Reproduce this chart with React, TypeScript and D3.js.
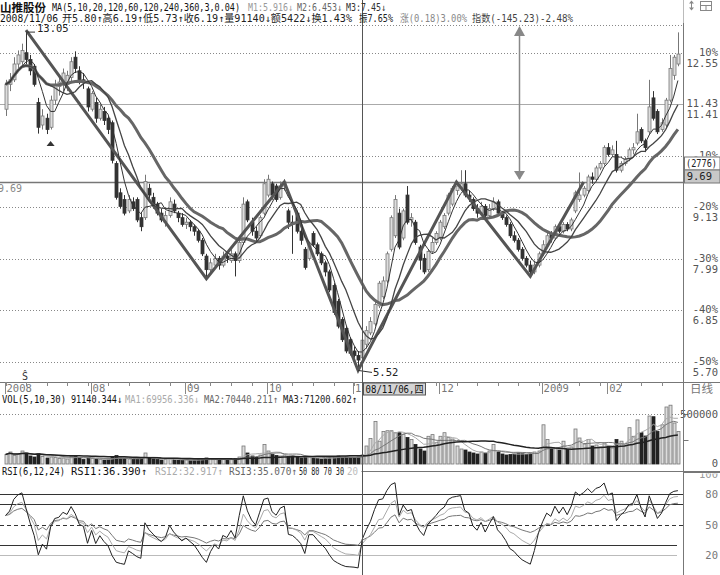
import React from 'react';
import * as d3 from 'd3';

const opens = [11.30,11.85,11.95,12.30,12.35,12.55,12.40,12.25,11.45,10.95,11.10,10.90,11.50,11.80,11.85,11.85,12.00,12.45,12.15,11.95,11.75,11.30,11.45,11.10,11.25,11.10,11.00,10.10,9.45,9.30,9.05,9.25,9.30,8.90,8.90,9.55,9.35,9.20,9.00,8.80,8.95,9.20,9.00,8.90,8.75,8.80,8.70,8.60,8.40,8.05,7.75,7.85,8.00,7.85,8.05,7.95,8.10,7.95,8.35,9.25,8.80,8.60,8.50,9.00,9.40,9.65,9.60,9.35,9.60,9.05,8.80,9.00,8.60,8.20,8.00,8.55,8.30,8.10,7.90,7.70,7.40,7.05,6.65,6.45,6.20,5.95,5.85,5.80,6.10,6.35,6.55,6.95,7.15,7.50,8.20,8.50,9.00,8.45,9.40,8.85,8.80,8.25,8.00,7.75,8.15,8.35,8.45,8.70,9.00,9.20,9.50,9.55,9.65,9.40,9.30,9.10,9.00,9.15,8.95,9.10,9.25,9.00,8.90,8.75,8.50,8.40,8.20,8.00,7.85,7.70,7.85,8.10,8.30,8.55,8.45,8.70,8.60,8.75,8.65,9.05,9.30,9.40,9.50,9.80,9.75,10.00,10.10,10.45,10.30,10.30,9.95,10.10,10.20,10.40,10.55,10.85,10.60,10.80,11.55,11.25,10.85,10.95,11.50,12.05,12.30];
const highs = [11.95,12.10,12.45,12.60,12.75,13.05,12.50,12.30,11.55,11.30,11.20,11.60,11.95,12.05,12.20,12.15,12.45,12.58,12.25,12.10,11.80,11.70,11.55,11.40,11.35,11.15,11.05,10.15,9.55,9.40,9.40,9.35,9.35,9.00,9.85,9.65,9.45,9.25,9.10,9.05,9.35,9.30,9.05,9.00,8.90,8.85,8.75,8.65,8.45,8.10,8.00,8.10,8.05,8.15,8.10,8.20,8.15,8.40,9.35,9.30,8.90,8.70,8.95,9.75,9.85,9.70,9.65,9.70,9.75,9.10,8.95,9.05,8.70,8.25,8.35,8.60,8.35,8.15,7.95,7.75,7.45,7.10,6.70,6.50,6.25,6.05,5.95,6.19,6.50,6.70,7.05,7.50,7.60,8.15,8.95,9.40,9.10,9.10,9.60,9.00,8.85,8.30,8.10,8.20,8.45,8.60,8.85,9.00,9.45,9.60,9.69,9.95,9.95,9.50,9.35,9.20,9.25,9.20,9.20,9.35,9.30,9.05,8.95,8.80,8.60,8.45,8.25,8.05,7.95,7.95,8.15,8.40,8.60,8.60,8.75,8.75,8.80,8.80,8.90,9.50,9.90,9.60,9.85,9.90,10.05,10.15,10.50,10.55,10.50,10.60,10.15,10.25,10.45,10.55,11.20,10.90,10.65,11.95,11.70,11.30,11.10,11.55,12.50,12.50,13.00];
const lows = [11.15,11.70,11.90,12.20,12.25,12.30,12.05,11.80,10.76,10.85,10.75,10.85,11.40,11.60,11.70,11.70,11.90,12.10,11.85,11.75,11.25,11.25,11.00,11.05,10.95,10.75,10.10,9.30,9.10,8.95,9.00,9.05,8.80,8.60,8.85,9.30,9.10,8.95,8.80,8.70,8.90,9.00,8.80,8.70,8.65,8.60,8.50,8.35,8.05,7.55,7.65,7.80,7.75,7.80,7.90,7.90,7.60,7.90,8.30,8.80,8.50,8.35,8.45,8.95,9.35,9.30,9.25,9.30,9.50,8.65,8.10,8.55,8.30,7.75,7.95,8.25,8.05,7.85,7.60,7.25,6.75,6.45,6.15,5.90,5.85,5.80,5.52,5.73,6.00,6.30,6.50,6.90,7.10,7.45,8.15,8.45,8.20,8.40,8.75,8.70,8.30,7.75,7.65,7.70,8.10,8.30,8.40,8.65,8.95,9.15,9.40,9.50,9.35,9.25,9.05,8.90,8.95,8.90,8.90,9.05,8.95,8.85,8.70,8.45,8.35,8.15,7.95,7.80,7.60,7.65,7.80,8.05,8.25,8.35,8.40,8.55,8.55,8.60,8.60,9.00,9.25,9.35,9.45,9.65,9.70,9.95,10.05,10.25,10.25,9.90,9.90,10.05,10.15,10.30,10.50,10.55,10.35,10.75,11.05,10.75,10.80,10.90,11.45,11.95,12.25];
const closes = [11.85,11.95,12.30,12.50,12.60,12.40,12.15,11.85,10.90,11.15,10.85,11.50,11.85,11.90,12.10,12.05,12.35,12.20,11.95,11.90,11.35,11.65,11.10,11.30,11.05,10.85,10.17,9.35,9.15,9.00,9.30,9.10,8.85,8.70,9.70,9.40,9.20,9.00,8.85,8.95,9.25,9.05,8.90,8.75,8.80,8.70,8.60,8.40,8.10,7.75,7.90,8.00,7.85,8.05,8.00,8.10,7.95,8.35,9.20,8.85,8.60,8.45,8.90,9.65,9.75,9.40,9.30,9.60,9.69,8.80,8.75,8.60,8.40,7.80,8.30,8.30,8.10,7.90,7.70,7.30,6.80,6.50,6.20,5.95,5.90,5.85,5.75,6.19,6.40,6.60,6.98,7.45,7.50,8.10,8.90,9.30,8.25,9.05,8.80,8.90,8.35,7.96,7.70,8.15,8.35,8.55,8.80,8.95,9.40,9.55,9.60,9.65,9.40,9.35,9.10,9.00,9.15,8.95,9.10,9.25,9.00,8.90,8.75,8.50,8.40,8.20,8.00,7.85,7.70,7.85,8.10,8.30,8.50,8.45,8.70,8.60,8.75,8.65,8.85,9.45,9.40,9.55,9.80,9.75,10.00,10.10,10.45,10.30,10.40,9.95,10.10,10.20,10.40,10.45,10.80,10.60,10.45,11.35,11.10,10.80,11.00,11.50,12.20,12.45,12.52];
const volumes = [95000,120000,85000,100000,130000,110000,80000,70000,105000,75000,60000,70000,65000,55000,60000,50000,75000,80000,60000,45000,65000,55000,50000,45000,40000,45000,70000,85000,60000,55000,50000,45000,55000,60000,110000,65000,50000,45000,40000,45000,55000,45000,40000,35000,40000,35000,40000,45000,50000,60000,55000,45000,40000,45000,40000,45000,55000,70000,180000,110000,80000,65000,90000,196000,130000,95000,85000,80000,90000,75000,85000,70000,60000,65000,70000,60000,55000,50000,55000,65000,75000,80000,70000,75000,65000,60000,70000,91140,180000,255000,425000,228000,326000,333000,333000,313000,313000,294000,265000,245000,196000,150000,130000,277000,294000,215000,277000,313000,265000,250000,180000,150000,140000,120000,110000,100000,120000,110000,130000,196000,120000,100000,90000,95000,100000,110000,105000,95000,110000,120000,130000,392000,245000,150000,160000,140000,228000,150000,170000,350000,260000,200000,245000,180000,190000,170000,210000,180000,160000,245000,228000,190000,363000,277000,441000,313000,280000,480000,473000,326000,392000,570000,588000,410000,326000];

const monthIdx = [0, 21, 44, 64, 85, 106, 131, 147];
const monthLabels = ['2008', '08', '09', '10', '11', '12', '2009', '02'];
const gridPct = ['10%', '-10%', '-20%', '-30%', '-40%', '-50%'];
const gridPrice = [12.55, 10.27, 9.13, 7.99, 6.85, 5.70];
const basePrice = 11.41;
const zigIdx = [5, 49, 68, 86, 110, 128, 141];
const zigVal = [13.05, 7.55, 9.69, 5.52, 9.69, 7.60, 9.69];
const rsiLevels = [80, 70, 50, 30, 20];
const rsiLabels = [80, 50, 20];
const crossIdx = 87;
const crossPrice = 9.69;

function movingAvg(arr: number[], n: number) {
  return arr.map((_, i) => d3.mean(arr.slice(Math.max(0, i - n + 1), i + 1)) as number);
}
function rsiCalc(c: number[], n: number) {
  let up = 0.1, all = 0.17;
  return c.map((v, i) => {
    if (i > 0) {
      const d = v - c[i - 1];
      up = (Math.max(d, 0) + (n - 1) * up) / n;
      all = (Math.abs(d) + (n - 1) * all) / n;
    }
    return all === 0 ? 50 : (up / all) * 100;
  });
}

const MONO = "'DejaVu Sans Mono', 'Noto Sans CJK SC', monospace";
const CJK = "'Noto Sans CJK SC', 'DejaVu Sans', sans-serif";

type TProps = { x: number; y: number; w: number; fill?: string; size?: number; family?: string; bold?: boolean; children: React.ReactNode };
function T({ x, y, w, fill = '#111', size = 10, family = MONO, bold = false, children }: TProps) {
  return (
    <text x={x} y={y} fontSize={size} fontFamily={family} fill={fill} fontWeight={bold ? 'bold' : 'normal'}
      textLength={w} lengthAdjust="spacingAndGlyphs">{children}</text>
  );
}

export default function App() {
  const N = closes.length;
  const x = d3.scaleLinear().domain([0, N - 1]).range([5.5, 677.9]);
  const y = d3.scaleLinear().domain([5.70, 12.55]).range([362.3, 52.7]);
  const yv = d3.scaleLinear().domain([0, 500000]).range([464, 414]);
  const yr = d3.scaleLinear().domain([0, 100]).range([576, 473.2]);
  const AX = 683.5;

  const ma5 = movingAvg(closes, 5);
  const ma10 = movingAvg(closes, 10);
  const ma20 = movingAvg(closes, 20);
  const vma5 = movingAvg(volumes, 5);
  const vma10 = movingAvg(volumes, 10);
  const vma30 = movingAvg(volumes, 30);
  const r1 = rsiCalc(closes, 6);
  const r2 = rsiCalc(closes, 12);
  const r3 = rsiCalc(closes, 24);

  const pl = d3.line<number>().x((_, i) => x(i)).y((v) => y(v));
  const vl = d3.line<number>().x((_, i) => x(i)).y((v) => yv(v));
  const rl = d3.line<number>().x((_, i) => x(i)).y((v) => yr(v));
  const zig = d3.line<number>().x((d) => x(zigIdx[d])).y((d) => y(zigVal[d]))(d3.range(zigIdx.length)) as string;

  const minorTicks = d3.range(0, N, 5);
  const cx = Math.round(x(crossIdx)) + 0.5;
  const hy = Math.round(y(crossPrice)) + 0.5;
  const lowI = 86;

  return (
    <svg width={720} height={575} style={{ position: 'absolute', left: 0, top: 0, background: '#fff' }}>
      <defs>
        <clipPath id="clip100"><rect x={AX + 1} y={473.5} width={40} height={10} /></clipPath>
        <clipPath id="clipLeft"><rect x={0} y={170} width={40} height={30} /></clipPath>
        <clipPath id="clipM10"><rect x={AX + 1} y={140} width={40} height={16.5} /></clipPath>
      </defs>
      <rect x={0} y={0} width={720} height={575} fill="#fff" />
      {/* price gridlines */}
      <line x1={0} x2={AX} y1={25.5} y2={25.5} stroke="#888" strokeDasharray="1,2" />
      {gridPrice.map((p, k) => (
        <line key={'g' + k} x1={0} x2={AX} y1={Math.round(y(p)) + 0.5} y2={Math.round(y(p)) + 0.5} stroke="#888" strokeDasharray="1,2" />
      ))}
      <line x1={0} x2={AX} y1={Math.round(y(basePrice)) + 0.5} y2={Math.round(y(basePrice)) + 0.5} stroke="#aaa" strokeWidth={1} />
      {/* crosshair horizontal */}
      <line x1={0} x2={AX} y1={hy} y2={hy} stroke="#777" strokeWidth={1.6} />
      <g clipPath="url(#clipLeft)">
        <text x={-2} y={hy + 9} fontSize={10} fontFamily={MONO} fill="#888">9.69</text>
      </g>

      {/* candles */}
      {closes.map((c, i) => {
        const up = c >= opens[i];
        const xi = Math.round(x(i)) + 0.5;
        const top = y(Math.max(c, opens[i]));
        const bot = y(Math.min(c, opens[i]));
        return (
          <g key={'c' + i}>
            <line x1={xi} x2={xi} y1={y(highs[i])} y2={y(lows[i])} stroke={up ? '#777' : '#333'} />
            <rect x={xi - 1.5} y={top} width={3} height={Math.max(1, bot - top)} fill={up ? '#ddd' : '#333'} stroke={up ? '#777' : '#333'} strokeWidth={0.8} />
          </g>
        );
      })}

      {/* MAs and zigzag */}
      <path d={pl(ma20) as string} fill="none" stroke="#666" strokeWidth={3} />
      <path d={zig} fill="none" stroke="#555" strokeWidth={3} />
      <path d={pl(ma10) as string} fill="none" stroke="#444" strokeWidth={1.3} />
      <path d={pl(ma5) as string} fill="none" stroke="#333" strokeWidth={1} />

      {/* high / low labels */}
      <line x1={x(5)} x2={35} y1={y(highs[5]) + 2} y2={y(highs[5]) + 2} stroke="#333" />
      <text x={37} y={y(highs[5]) + 2} fontSize={10.5} fontFamily={MONO} fill="#222">13.05</text>
      <line x1={x(lowI)} x2={372} y1={y(lows[lowI])} y2={y(lows[lowI]) + 2} stroke="#333" />
      <text x={373} y={y(lows[lowI]) + 6} fontSize={10.5} fontFamily={MONO} fill="#222">5.52</text>
      <path d={`M${x(11) - 4},${y(lows[10]) + 12} l4,-5 l4,5 z`} fill="#333" />

      {/* double arrow */}
      <line x1={519.5} x2={519.5} y1={28} y2={179} stroke="#888" strokeWidth={1.5} />
      <path d="M514,36 L519.5,26 L525,36 Z" fill="#888" />
      <path d="M514,171 L519.5,180 L525,171 Z" fill="#888" />

      {/* crosshair vertical */}
      <line x1={cx} x2={cx} y1={0} y2={575} stroke="#555" />

      {/* right axis */}
      <rect x={AX} y={0} width={720 - AX} height={575} fill="#fff" />
      <line x1={AX} x2={AX} y1={0} y2={575} stroke="#777" />
      {gridPrice.map((p, k) => (
        <g key={'lab' + k} fontFamily={MONO} fontSize={10.5} fill="#555">
          {k === 1 ? (
            <g clipPath="url(#clipM10)"><text x={718} y={y(p) + 3} textAnchor="end">{gridPct[k]}</text></g>
          ) : (
            <text x={718} y={y(p) + 3} textAnchor="end">{gridPct[k]}</text>
          )}
          {k !== 1 && <text x={718} y={y(p) + 14} textAnchor="end">{p.toFixed(2)}</text>}
        </g>
      ))}
      <text x={718} y={y(basePrice) + 3} textAnchor="end" fontFamily={MONO} fontSize={10.5} fill="#555">11.43</text>
      <text x={718} y={y(basePrice) + 14} textAnchor="end" fontFamily={MONO} fontSize={10.5} fill="#555">11.41</text>
      <rect x={AX + 1} y={157} width={720 - AX - 1} height={13} fill="#fff" stroke="#777" />
      <rect x={AX + 1} y={170} width={720 - AX - 1} height={13} fill="#c8c8c8" stroke="#777" />
      <T x={686} y={167} w={31} fill="#222">(2776)</T>
      <text x={712} y={180} textAnchor="end" fontFamily={MONO} fontSize={10.5} fill="#222">9.69</text>
      {/* icons */}
      <line x1={691.5} x2={691.5} y1={1} y2={10} stroke="#888" />
      <path d="M689,3.5 L691.5,0.5 L694,3.5 Z M689,7.5 L691.5,10.5 L694,7.5 Z" fill="#888" />
      <rect x={700.5} y={1.5} width={11} height={9} fill="none" stroke="#888" />
      <line x1={700.5} x2={711.5} y1={5.5} y2={5.5} stroke="#888" />
      <line x1={706} x2={706} y1={5.5} y2={10.5} stroke="#888" />

      {/* date axis */}
      <line x1={0} x2={720} y1={382.5} y2={382.5} stroke="#777" />
      {minorTicks.map((t) => (
        <line key={'t' + t} x1={Math.round(x(t)) + 0.5} x2={Math.round(x(t)) + 0.5} y1={382} y2={386} stroke="#888" />
      ))}
      {monthIdx.map((m, k) => (
        <g key={'m' + k}>
          <line x1={Math.round(x(m)) - 0.5} x2={Math.round(x(m)) - 0.5} y1={382} y2={394} stroke="#888" />
          <text x={x(m) + 1} y={392} fontSize={10.5} fontFamily={MONO} fill="#777">{monthLabels[k]}</text>
        </g>
      ))}
      <rect x={cx + 1} y={383} width={62} height={12} fill="#d4d4d4" stroke="#555" />
      <T x={cx + 3} y={393} w={58} size={10.5}>08/11/06,四</T>
      <text x={690} y={393} fontSize={11.5} fontFamily={CJK} fill="#777">日线</text>
      <text x={22} y={380} fontSize={10} fontFamily={MONO} fill="#333">Ŝ</text>

      {/* volume panel */}
      <T x={2} y={403} w={64}>VOL(5,10,30)</T>
      <T x={71} y={403} w={51}>91140.344↓</T>
      <T x={125} y={403} w={74} fill="#aaa">MA1:69956.336↓</T>
      <T x={204} y={403} w={74} fill="#666">MA2:70440.211↑</T>
      <T x={283} y={403} w={74} fill="#222">MA3:71200.602↑</T>
      <line x1={0} x2={AX} y1={414.5} y2={414.5} stroke="#888" strokeDasharray="1,2" />
      {volumes.map((v, i) => {
        const up = closes[i] >= opens[i];
        const xi = Math.round(x(i));
        return (
          <rect key={'v' + i} x={xi - 1} y={yv(v)} width={3} height={464 - yv(v)} fill={up ? '#ddd' : '#222'} stroke={up ? '#777' : '#222'} strokeWidth={0.8} />
        );
      })}
      <path d={vl(vma5) as string} fill="none" stroke="#aaa" strokeWidth={1} />
      <path d={vl(vma10) as string} fill="none" stroke="#777" strokeWidth={1} />
      <path d={vl(vma30) as string} fill="none" stroke="#222" strokeWidth={1.5} />
      <line x1={AX} x2={AX + 5} y1={414.5} y2={414.5} stroke="#777" />
      <line x1={AX} x2={AX + 5} y1={440.5} y2={440.5} stroke="#777" />
      <text x={718} y={418} textAnchor="end" fontSize={10.5} fontFamily={MONO} fill="#555">500000</text>
      <text x={718} y={467} textAnchor="end" fontSize={10.5} fontFamily={MONO} fill="#555">0</text>

      {/* RSI panel */}
      <line x1={0} x2={720} y1={471.5} y2={471.5} stroke="#777" />
      <rect x={0} y={466} width={cx - 1} height={11} fill="#fff" />
      <T x={2} y={475} w={63}>RSI(6,12,24)</T>
      <T x={71} y={475} w={76}>RSI1:36.390↑</T>
      <T x={155} y={475} w={68} fill="#aaa">RSI2:32.917↑</T>
      <T x={229} y={475} w={68} fill="#666">RSI3:35.070↑</T>
      <T x={299} y={475} w={45} fill="#222">50 80 70 30</T>
      <T x={347} y={475} w={11} fill="#bbb">20</T>
      {rsiLevels.map((l) => (
        <line key={'r' + l} x1={0} x2={l === 30 || l === 20 ? 677 : AX} y1={Math.round(yr(l)) + 0.5} y2={Math.round(yr(l)) + 0.5}
          stroke={l === 20 ? '#bbb' : '#333'} strokeDasharray={l === 50 ? '4,3' : undefined} />
      ))}
      <path d={rl(r3) as string} fill="none" stroke="#777" strokeWidth={1} />
      <path d={rl(r2) as string} fill="none" stroke="#aaa" strokeWidth={1} />
      <path d={rl(r1) as string} fill="none" stroke="#222" strokeWidth={1} />
      <line x1={cx} x2={cx} y1={382} y2={575} stroke="#555" />
      <rect x={AX + 1} y={472} width={720 - AX} height={104} fill="#fff" />
      <line x1={AX} x2={AX} y1={382} y2={575} stroke="#777" />
      <line x1={AX} x2={720} y1={472.5} y2={472.5} stroke="#777" />
      <g clipPath="url(#clip100)">
        <text x={718} y={478} textAnchor="end" fontSize={10.5} fontFamily={MONO} fill="#999">100</text>
      </g>
      {rsiLabels.map((l) => (
        <text key={'rl' + l} x={718} y={yr(l) + 4} textAnchor="end" fontSize={10.5} fontFamily={MONO} fill="#777">{l}</text>
      ))}

      {/* header lines */}
      <rect x={0} y={0} width={AX} height={23} fill="#fff" />
      <line x1={cx} x2={cx} y1={0} y2={25} stroke="#555" />
      <T x={0} y={11.5} w={46} size={11} family={CJK} bold>山推股份</T>
      <T x={52} y={11} w={188}>MA(5,10,20,120,60,120,240,360,3,0.04)</T>
      <T x={248} y={11} w={45} fill="#999">M1:5.916↓</T>
      <T x={297} y={11} w={45} fill="#666">M2:6.453↓</T>
      <T x={346} y={11} w={40} fill="#333">M3:7.45↓</T>
      <T x={0} y={22} w={58}>2008/11/06</T>
      <T x={62} y={22} w={290} fill="#222">开5.80↑高6.19↑低5.73↑收6.19↑量91140↓额5422↓换1.43%</T>
      <T x={359} y={22} w={34} fill="#222">振7.65%</T>
      <T x={400} y={22} w={67} fill="#888">涨(0.18)3.00%</T>
      <T x={472} y={22} w={101} fill="#444">指数(-145.23)-2.48%</T>
    </svg>
  );
}
